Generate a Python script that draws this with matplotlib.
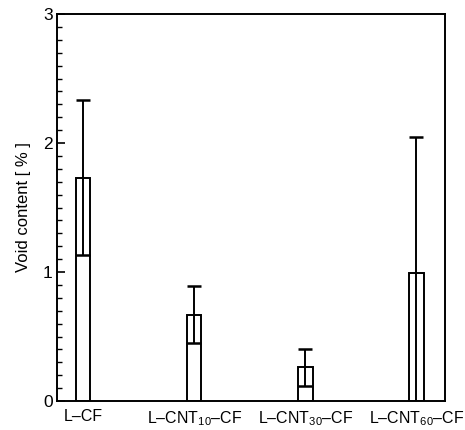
import numpy as np
import matplotlib.pyplot as plt
from matplotlib.ticker import MultipleLocator

samples = ['L–CF', 'L–CNT$_{10}$–CF', 'L–CNT$_{30}$–CF', 'L–CNT$_{60}$–CF']
void = [1.73, 0.67, 0.26, 0.99]
err = [0.60, 0.22, 0.14, 1.06]

plt.rcParams['font.family'] = ['Liberation Sans', 'DejaVu Sans']
plt.rcParams['mathtext.fontset'] = 'custom'
plt.rcParams['mathtext.rm'] = 'Liberation Sans'

fig = plt.figure(figsize=(4.65, 4.3), dpi=100)
ax = fig.add_axes([57/465, 29/430, 388/465, 387/430])

x = np.arange(len(samples))
ax.bar(x, void, width=0.13, color='white', edgecolor='black', linewidth=1.4, zorder=2)
ax.errorbar(x, void, yerr=err, fmt='none', ecolor='black', elinewidth=1.4,
            capsize=5.2, capthick=1.8, zorder=3)

ax.set_xlim(-0.235, 3.257)
ax.set_ylim(0, 3)
ax.set_xticks(x)
ax.set_xticklabels(samples, fontsize=11.5)
ax.tick_params(axis='x', length=0, pad=6)
ax.yaxis.set_major_locator(MultipleLocator(1))
ax.yaxis.set_minor_locator(MultipleLocator(0.1))
ax.tick_params(axis='y', which='major', direction='in', length=6, width=1.2, labelsize=12.5, pad=3)
ax.tick_params(axis='y', which='minor', direction='in', length=3.5, width=1.0)
ax.set_ylabel('Void content [ % ]', fontsize=12, labelpad=9)
for s in ax.spines.values():
    s.set_linewidth(1.4)

fig.savefig('out.png', dpi=100)
